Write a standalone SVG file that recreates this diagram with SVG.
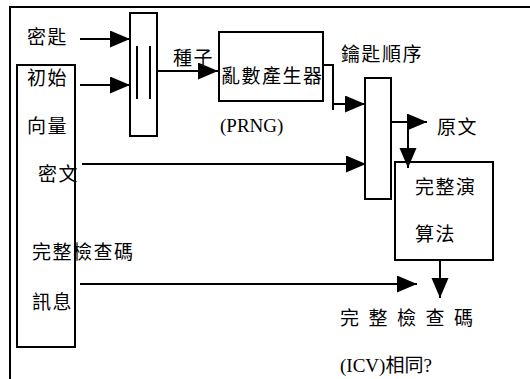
<svg xmlns="http://www.w3.org/2000/svg" width="530" height="379" viewBox="0 0 530 379">
<style>
.box{fill:#fff;stroke:#000;stroke-width:2}
.ln{fill:none;stroke:#000;stroke-width:2}
.arr{fill:none;stroke:#000;stroke-width:2;marker-end:url(#ah)}
.cjk{font-family:"Noto Sans CJK TC","Noto Sans CJK SC",sans-serif;font-size:19px;letter-spacing:1.5px;fill:#000}
.spaced{letter-spacing:9.5px}
.ser{font-family:"Liberation Serif","Noto Sans CJK TC",serif;font-size:19px;fill:#000}
</style>
<defs>
<marker id="ah" markerUnits="userSpaceOnUse" markerWidth="21" markerHeight="18" refX="20" refY="8.5" orient="auto">
<path d="M0,0 L20,8.5 L0,17 z" fill="#000"/>
</marker>
</defs>
<rect width="530" height="379" fill="#fff"/>
<g id="frame">
<path class="ln" d="M10,379 V7 H530"/>
</g>
<g id="iv-box">
<rect class="box" x="17" y="65" width="58" height="282"/>
</g>
<g id="combiner">
<rect class="box" x="130" y="13" width="27" height="123"/>
<path class="ln" d="M137,46 V99 M150,46 V99"/>
</g>
<g id="prng">
<rect class="box" x="219" y="32" width="104" height="69"/>
<text class="cjk" x="221" y="83">亂數產生器</text>
<text class="ser" x="220" y="132">(PRNG)</text>
</g>
<g id="xor">
<rect class="box" x="365" y="78" width="26" height="121"/>
</g>
<g id="integrity-alg">
<rect class="box" x="395" y="162" width="98" height="98"/>
<text class="cjk" x="415" y="194">完整演</text>
<text class="cjk" x="415" y="241">算法</text>
</g>
<g id="labels">
<text class="cjk" x="27" y="44">密匙</text>
<text class="cjk" x="27" y="85">初始</text>
<text class="cjk" x="27" y="133">向量</text>
<text class="cjk" x="38" y="181">密文</text>
<text class="cjk" x="173" y="65">種子</text>
<text class="cjk" x="341" y="61">鑰匙順序</text>
<text class="cjk" x="437" y="134">原文</text>
<text class="cjk" x="32" y="259">完整檢查碼</text>
<text class="cjk" x="32" y="309">訊息</text>
<text class="cjk spaced" x="340" y="325">完整檢查碼</text>
<text x="340" y="372"><tspan class="ser">(ICV)</tspan><tspan class="cjk" style="letter-spacing:0">相同</tspan><tspan class="ser">?</tspan></text>
</g>
<g id="connectors">
<path class="arr" d="M80,39 H130"/>
<path class="arr" d="M80,85 H130"/>
<path class="arr" d="M157,71 H218"/>
<path class="arr" d="M82,164 H366"/>
<path class="ln" d="M323,65 H333 V110"/>
<path class="arr" d="M333,104 H365"/>
<path class="arr" d="M391,122 H427"/>
<path class="arr" d="M408,122 V168"/>
<path class="arr" d="M440,260 V298"/>
<path class="arr" d="M80,284 H417"/>
</g>
</svg>
